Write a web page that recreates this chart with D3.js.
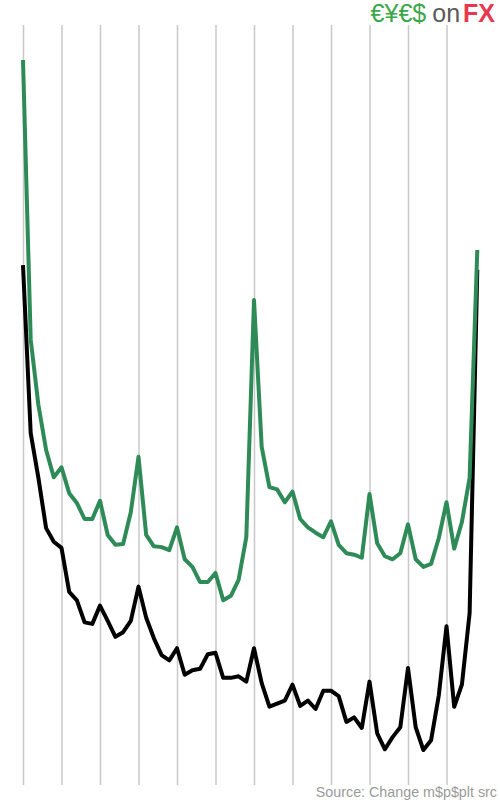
<!DOCTYPE html>
<html>
<head>
<meta charset="utf-8">
<script src="https://cdn.jsdelivr.net/npm/d3@7"></script>
<style>
  body { margin: 0; background: #fff; }
  svg { display: block; }
</style>
</head>
<body>
<svg id="chart" width="500" height="800"></svg>
<script>
// values (arbitrary units, 0 at the bottom of the grid)
const periods = d3.range(0, 60);
const blackSeries = [68.4, 46.3, 40.4, 33.8, 32.0, 31.2, 25.4, 24.3, 21.4, 21.2,
  23.6, 21.6, 19.5, 20.1, 21.6, 26.1, 22.0, 19.3, 17.1, 16.4,
  18.0, 14.5, 15.1, 15.3, 17.2, 17.4, 14.1, 14.1, 14.3, 13.6,
  18.0, 13.4, 10.3, 10.7, 11.1, 13.2, 10.4, 11.1, 10.0, 12.4,
  12.4, 11.7, 8.3, 8.9, 7.5, 13.6, 6.8, 4.7, 6.3, 7.6,
  15.4, 7.6, 4.6, 5.9, 11.8, 20.9, 10.3, 13.2, 22.6, 67.8];
const greenSeries = [95.4, 58.6, 50.0, 44.1, 40.5, 41.8, 38.4, 37.1, 35.0, 35.0,
  37.4, 32.9, 31.6, 31.7, 35.9, 43.2, 32.9, 31.4, 31.3, 30.9,
  33.9, 29.7, 28.7, 26.7, 26.7, 27.9, 24.3, 24.9, 27.0, 32.6,
  63.8, 44.5, 39.2, 38.9, 37.2, 38.6, 35.0, 33.9, 33.2, 32.6,
  34.7, 31.6, 30.5, 30.3, 29.9, 38.3, 31.8, 30.1, 29.7, 30.5,
  34.3, 29.7, 28.7, 29.1, 32.5, 37.2, 31.1, 34.6, 40.4, 70.4];
const gridTicks = d3.range(0, 56, 5);
const sourceText = "Source: Change m$p$plt  src";

const svg = d3.select("#chart");
const gridTop = 25, gridBottom = 785;

const x = d3.scaleLinear().domain([0, 59]).range([23, 477.3]);
const y = d3.scaleLinear().domain([0, 100]).range([gridBottom, gridTop]);

// vertical grid
const grid = svg.append("g")
  .attr("transform", `translate(0,${gridBottom})`)
  .call(d3.axisBottom(x).tickValues(gridTicks).tickSize(-(gridBottom - gridTop)).tickFormat(""));
grid.select(".domain").remove();
grid.selectAll(".tick line").attr("stroke", "#c8c8c8").attr("stroke-width", 1.5);

const line = d3.line().x((d, i) => x(periods[i])).y(d => y(d));

svg.append("path")
  .datum(blackSeries)
  .attr("fill", "none")
  .attr("stroke", "#000")
  .attr("stroke-width", 4)
  .attr("stroke-linejoin", "round")
  .attr("d", line);

svg.append("path")
  .datum(greenSeries)
  .attr("fill", "none")
  .attr("stroke", "#2e8b57")
  .attr("stroke-width", 4)
  .attr("stroke-linejoin", "round")
  .attr("d", line);

// logo
const logo = svg.append("text")
  .attr("x", 495).attr("y", 22)
  .attr("text-anchor", "end")
  .attr("font-family", "Liberation Sans, Arial, sans-serif")
  .attr("font-size", 25);
logo.append("tspan").attr("fill", "#3aa84a").text("€¥€$");
logo.append("tspan").attr("fill", "#5a5a5a").attr("dx", 6).text("on");
logo.append("tspan").attr("fill", "#e8384f").attr("font-weight", "bold").attr("dx", 3).text("FX");

svg.append("text")
  .attr("x", 497).attr("y", 797)
  .attr("text-anchor", "end")
  .attr("font-family", "Liberation Sans, Arial, sans-serif")
  .attr("font-size", 14.3)
  .attr("fill", "#9a9a9a")
  .text(sourceText);
</script>
</body>
</html>
